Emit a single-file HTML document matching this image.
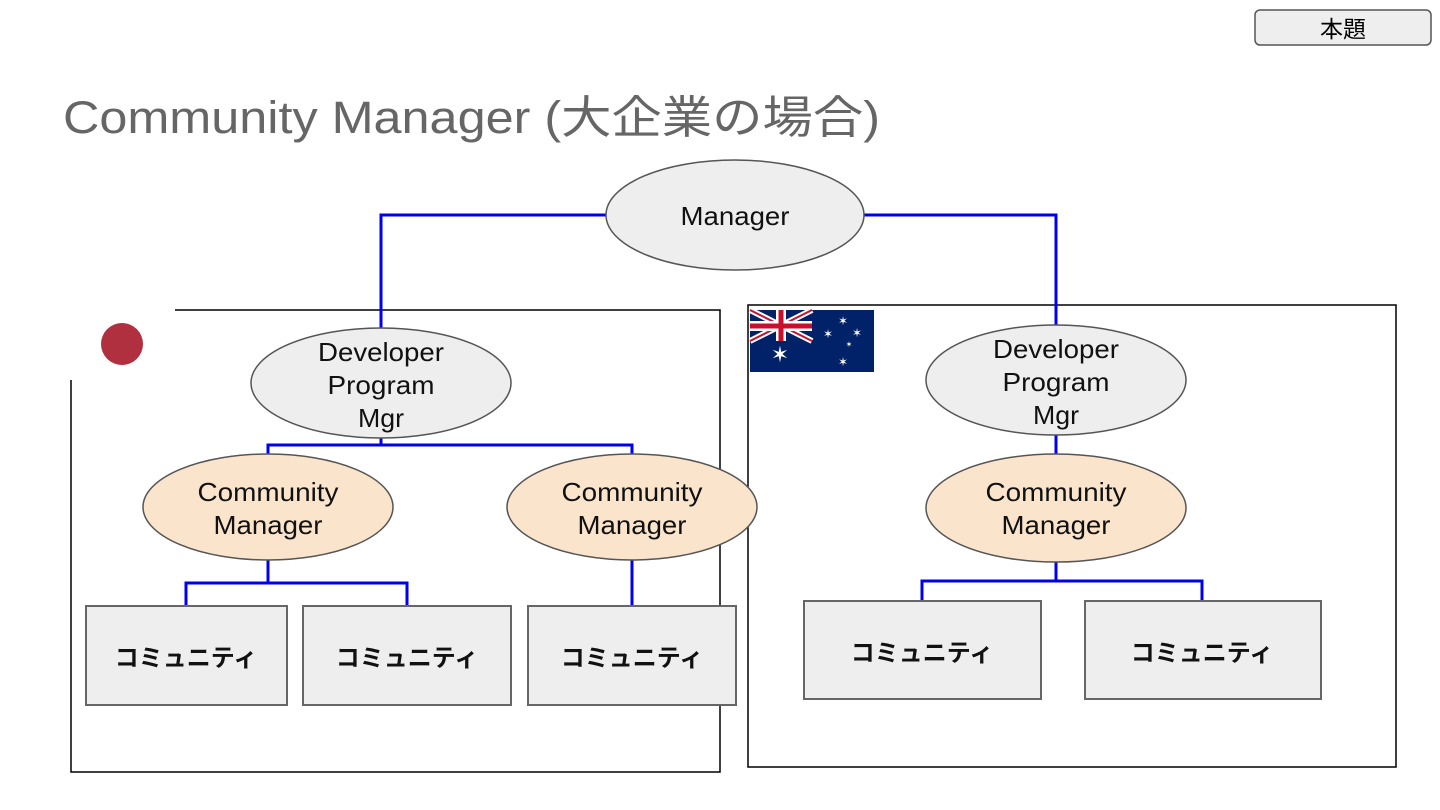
<!DOCTYPE html>
<html><head><meta charset="utf-8"><style>
html,body{margin:0;padding:0;background:#fff;}
svg{display:block;}
text{font-family:"Liberation Sans","Noto Sans CJK JP",sans-serif;}
</style></head><body>
<svg width="1440" height="810" viewBox="0 0 1440 810" xmlns="http://www.w3.org/2000/svg">
<rect width="1440" height="810" fill="#fff"/>
<rect x="1255" y="10" width="176" height="35" rx="5" fill="#eee" stroke="#555" stroke-width="1.5"/>
<text x="1343" y="37" font-size="23" text-anchor="middle" fill="#000">本題</text>
<text x="63" y="133" font-size="45" fill="#666" textLength="817" lengthAdjust="spacingAndGlyphs">Community Manager (大企業の場合)</text>

<rect x="71" y="310" width="649" height="462" fill="none" stroke="#000" stroke-width="1.5"/>
<rect x="748" y="305" width="648" height="462" fill="none" stroke="#000" stroke-width="1.5"/>
<rect x="69" y="308" width="106" height="72" fill="#fff"/>
<circle cx="122" cy="344" r="21" fill="#b03040"/>

<rect x="750" y="310" width="124" height="62" fill="#012169"/>
<g>
<path d="M750 310 L812 341 M812 310 L750 341" stroke="#fff" stroke-width="6"/>
<path d="M750 310 L812 341 M812 310 L750 341" stroke="#c8102e" stroke-width="2"/>
<rect x="776" y="310" width="10" height="31" fill="#fff"/>
<rect x="750" y="321" width="62" height="10" fill="#fff"/>
<rect x="778.5" y="310" width="5" height="31" fill="#c8102e"/>
<rect x="750" y="323.5" width="62" height="5" fill="#c8102e"/>
</g>
<g fill="#fff" font-size="12" text-anchor="middle">
<text x="780" y="362" font-size="22">✶</text>
<text x="843" y="325">✶</text><text x="828" y="338">✶</text><text x="857" y="337">✶</text>
<text x="849" y="347" font-size="8">✶</text><text x="843" y="366">✶</text>
</g>

<g stroke="#0000ee" stroke-width="3" fill="none">
<path d="M606 215 H381 V330"/>
<path d="M864 215 H1056 V326"/>
<path d="M381 437 V445 M268 455 V445 H632 V455"/>
<path d="M268 560 V583 M186 607 V583 H407 V607"/>
<path d="M632 560 V607"/>
<path d="M1056 435 V454"/>
<path d="M1056 562 V581 M922 601 V581 H1202 V601"/>
</g>

<g stroke="#555" stroke-width="1.5">
<ellipse cx="735" cy="215" rx="129" ry="55" fill="#eee"/>
<ellipse cx="381" cy="383" rx="130" ry="55" fill="#eee"/>
<ellipse cx="1056" cy="380" rx="130" ry="55" fill="#eee"/>
<ellipse cx="268" cy="507" rx="125" ry="53" fill="#fbe4cc"/>
<ellipse cx="632" cy="507" rx="125" ry="53" fill="#fbe4cc"/>
<ellipse cx="1056" cy="508" rx="130" ry="54" fill="#fbe4cc"/>
</g>
<g font-size="26" text-anchor="middle" fill="#111">
<text x="735" y="225" textLength="109" lengthAdjust="spacingAndGlyphs">Manager</text>
<text x="381" y="361" textLength="126" lengthAdjust="spacingAndGlyphs">Developer</text><text x="381" y="394" textLength="107" lengthAdjust="spacingAndGlyphs">Program</text><text x="381" y="427" textLength="46" lengthAdjust="spacingAndGlyphs">Mgr</text>
<text x="1056" y="358" textLength="126" lengthAdjust="spacingAndGlyphs">Developer</text><text x="1056" y="391" textLength="107" lengthAdjust="spacingAndGlyphs">Program</text><text x="1056" y="424" textLength="46" lengthAdjust="spacingAndGlyphs">Mgr</text>
<text x="268" y="501" textLength="141" lengthAdjust="spacingAndGlyphs">Community</text><text x="268" y="534" textLength="109" lengthAdjust="spacingAndGlyphs">Manager</text>
<text x="632" y="501" textLength="141" lengthAdjust="spacingAndGlyphs">Community</text><text x="632" y="534" textLength="109" lengthAdjust="spacingAndGlyphs">Manager</text>
<text x="1056" y="501" textLength="141" lengthAdjust="spacingAndGlyphs">Community</text><text x="1056" y="534" textLength="109" lengthAdjust="spacingAndGlyphs">Manager</text>
</g>

<g fill="#eee" stroke="#666" stroke-width="2">
<rect x="86" y="606" width="201" height="99"/>
<rect x="303" y="606" width="208" height="99"/>
<rect x="528" y="606" width="208" height="99"/>
<rect x="804" y="601" width="237" height="98"/>
<rect x="1085" y="601" width="236" height="98"/>
</g>
<g font-size="24" font-weight="bold" text-anchor="middle" fill="#111">
<text x="186" y="666">コミュニティ</text>
<text x="407" y="666">コミュニティ</text>
<text x="632" y="666">コミュニティ</text>
<text x="922" y="661">コミュニティ</text>
<text x="1202" y="661">コミュニティ</text>
</g>
</svg>
</body></html>
